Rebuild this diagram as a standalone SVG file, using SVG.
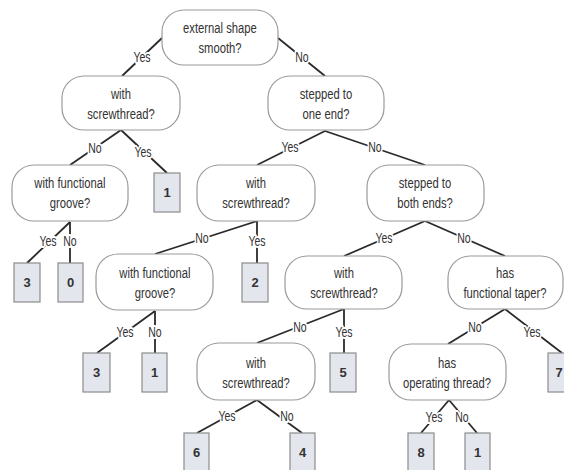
<svg xmlns="http://www.w3.org/2000/svg" width="564" height="470" viewBox="0 0 564 470">
<style>
.n rect{fill:#fff;stroke:#9a9a9a;stroke-width:1.2}
.n text{font-family:"Liberation Sans",Arial,sans-serif;font-size:15px;fill:#333;text-anchor:middle}
.l rect{fill:#e3e6ed;stroke:#8c8c8c;stroke-width:1.2}
.l text{font-family:"Liberation Sans",Arial,sans-serif;font-size:13px;font-weight:bold;fill:#333;text-anchor:middle}
#edges line{stroke:#2a2a2a;stroke-width:1.8}
#edges text{font-family:"Liberation Sans",Arial,sans-serif;font-size:14px;fill:#333;text-anchor:middle;stroke:#fff;stroke-width:4;paint-order:stroke;stroke-linejoin:round}
</style>
<rect width="564" height="470" fill="#fff"/>
<g id="edges">
<line x1="162" y1="38" x2="122" y2="76"/>
<line x1="278" y1="38" x2="325" y2="76"/>
<line x1="121" y1="130" x2="70" y2="165"/>
<line x1="121" y1="130" x2="167" y2="173"/>
<line x1="70" y1="222" x2="27" y2="263"/>
<line x1="70" y1="222" x2="70" y2="263"/>
<line x1="325" y1="131" x2="257" y2="165"/>
<line x1="325" y1="131" x2="425" y2="165"/>
<line x1="257" y1="221" x2="155" y2="254"/>
<line x1="257" y1="221" x2="257" y2="263"/>
<line x1="155" y1="311" x2="97" y2="353"/>
<line x1="155" y1="311" x2="155" y2="353"/>
<line x1="425" y1="221" x2="344" y2="256"/>
<line x1="425" y1="221" x2="505" y2="256"/>
<line x1="344" y1="309" x2="257" y2="343"/>
<line x1="344" y1="309" x2="344" y2="353"/>
<line x1="505" y1="309" x2="448" y2="344"/>
<line x1="505" y1="309" x2="562" y2="353"/>
<line x1="257" y1="400" x2="197" y2="433"/>
<line x1="257" y1="400" x2="302" y2="433"/>
<line x1="449" y1="400" x2="421" y2="433"/>
<line x1="449" y1="400" x2="477" y2="433"/>
<text x="142" y="62" transform="matrix(.75 0 0 1 35.5 0)">Yes</text>
<text x="302" y="62" transform="matrix(.75 0 0 1 75.5 0)">No</text>
<text x="95" y="153" transform="matrix(.75 0 0 1 23.75 0)">No</text>
<text x="143" y="157" transform="matrix(.75 0 0 1 35.75 0)">Yes</text>
<text x="48" y="246" transform="matrix(.75 0 0 1 12 0)">Yes</text>
<text x="70" y="246" transform="matrix(.75 0 0 1 17.5 0)">No</text>
<text x="290" y="152" transform="matrix(.75 0 0 1 72.5 0)">Yes</text>
<text x="375" y="152" transform="matrix(.75 0 0 1 93.75 0)">No</text>
<text x="202" y="243" transform="matrix(.75 0 0 1 50.5 0)">No</text>
<text x="257" y="246" transform="matrix(.75 0 0 1 64.25 0)">Yes</text>
<text x="125" y="337" transform="matrix(.75 0 0 1 31.25 0)">Yes</text>
<text x="155" y="337" transform="matrix(.75 0 0 1 38.75 0)">No</text>
<text x="384" y="243" transform="matrix(.75 0 0 1 96 0)">Yes</text>
<text x="464" y="243" transform="matrix(.75 0 0 1 116 0)">No</text>
<text x="300" y="332" transform="matrix(.75 0 0 1 75 0)">No</text>
<text x="344" y="337" transform="matrix(.75 0 0 1 86 0)">Yes</text>
<text x="475" y="332" transform="matrix(.75 0 0 1 118.75 0)">No</text>
<text x="532" y="337" transform="matrix(.75 0 0 1 133 0)">Yes</text>
<text x="227" y="421" transform="matrix(.75 0 0 1 56.75 0)">Yes</text>
<text x="287" y="421" transform="matrix(.75 0 0 1 71.75 0)">No</text>
<text x="434" y="422" transform="matrix(.75 0 0 1 108.5 0)">Yes</text>
<text x="462" y="422" transform="matrix(.75 0 0 1 115.5 0)">No</text>
</g>
<g id="n1" class="n"><rect x="162" y="10" width="116" height="55" rx="22"/><text x="220" y="33" transform="matrix(.75 0 0 1 55 0)">external shape</text><text x="220" y="53" transform="matrix(.75 0 0 1 55 0)">smooth?</text></g>
<g id="n2" class="n"><rect x="62" y="76" width="118" height="54" rx="22"/><text x="121" y="99" transform="matrix(.75 0 0 1 30.25 0)">with</text><text x="121" y="119" transform="matrix(.75 0 0 1 30.25 0)">screwthread?</text></g>
<g id="n3" class="n"><rect x="268" y="76" width="116" height="54" rx="22"/><text x="326" y="99" transform="matrix(.75 0 0 1 81.5 0)">stepped to</text><text x="326" y="119" transform="matrix(.75 0 0 1 81.5 0)">one end?</text></g>
<g id="n4" class="n"><rect x="12" y="165" width="116" height="56" rx="22"/><text x="70" y="188" transform="matrix(.75 0 0 1 17.5 0)">with functional</text><text x="70" y="208" transform="matrix(.75 0 0 1 17.5 0)">groove?</text></g>
<g id="n5" class="n"><rect x="197" y="165" width="118" height="56" rx="22"/><text x="256" y="188" transform="matrix(.75 0 0 1 64 0)">with</text><text x="256" y="208" transform="matrix(.75 0 0 1 64 0)">screwthread?</text></g>
<g id="n6" class="n"><rect x="367" y="165" width="117" height="56" rx="22"/><text x="425" y="188" transform="matrix(.75 0 0 1 106.25 0)">stepped to</text><text x="425" y="208" transform="matrix(.75 0 0 1 106.25 0)">both ends?</text></g>
<g id="n7" class="n"><rect x="96" y="254" width="117" height="56" rx="22"/><text x="155" y="278" transform="matrix(.75 0 0 1 38.75 0)">with functional</text><text x="155" y="298" transform="matrix(.75 0 0 1 38.75 0)">groove?</text></g>
<g id="n8" class="n"><rect x="285" y="256" width="117" height="53" rx="22"/><text x="344" y="278" transform="matrix(.75 0 0 1 86 0)">with</text><text x="344" y="298" transform="matrix(.75 0 0 1 86 0)">screwthread?</text></g>
<g id="n9" class="n"><rect x="448" y="256" width="115" height="53" rx="22"/><text x="505" y="278" transform="matrix(.75 0 0 1 126.25 0)">has</text><text x="505" y="298" transform="matrix(.75 0 0 1 126.25 0)">functional taper?</text></g>
<g id="n10" class="n"><rect x="197" y="343" width="118" height="57" rx="22"/><text x="256" y="368" transform="matrix(.75 0 0 1 64 0)">with</text><text x="256" y="388" transform="matrix(.75 0 0 1 64 0)">screwthread?</text></g>
<g id="n11" class="n"><rect x="389" y="344" width="117" height="56" rx="22"/><text x="447" y="368" transform="matrix(.75 0 0 1 111.75 0)">has</text><text x="447" y="388" transform="matrix(.75 0 0 1 111.75 0)">operating thread?</text></g>
<g id="leaf1" class="l"><rect x="154" y="173" width="26" height="39"/><text x="167" y="197">1</text></g>
<g id="leaf3a" class="l"><rect x="14" y="263" width="26" height="39"/><text x="27" y="287">3</text></g>
<g id="leaf0" class="l"><rect x="58" y="263" width="25" height="39"/><text x="70.5" y="287">0</text></g>
<g id="leaf2" class="l"><rect x="242" y="263" width="26" height="39"/><text x="255" y="287">2</text></g>
<g id="leaf3b" class="l"><rect x="83" y="353" width="27" height="39"/><text x="96.5" y="377">3</text></g>
<g id="leaf1b" class="l"><rect x="142" y="353" width="25" height="39"/><text x="154.5" y="377">1</text></g>
<g id="leaf5" class="l"><rect x="330" y="353" width="26" height="39"/><text x="343" y="377">5</text></g>
<g id="leaf7" class="l"><rect x="548" y="353" width="26" height="39"/><text x="559" y="377">7</text></g>
<g id="leaf6" class="l"><rect x="184" y="433" width="25" height="38"/><text x="196.5" y="457">6</text></g>
<g id="leaf4" class="l"><rect x="290" y="433" width="25" height="38"/><text x="302.5" y="457">4</text></g>
<g id="leaf8" class="l"><rect x="408" y="433" width="26" height="38"/><text x="421" y="457">8</text></g>
<g id="leaf1c" class="l"><rect x="465" y="433" width="25" height="38"/><text x="477.5" y="457">1</text></g>
</svg>
